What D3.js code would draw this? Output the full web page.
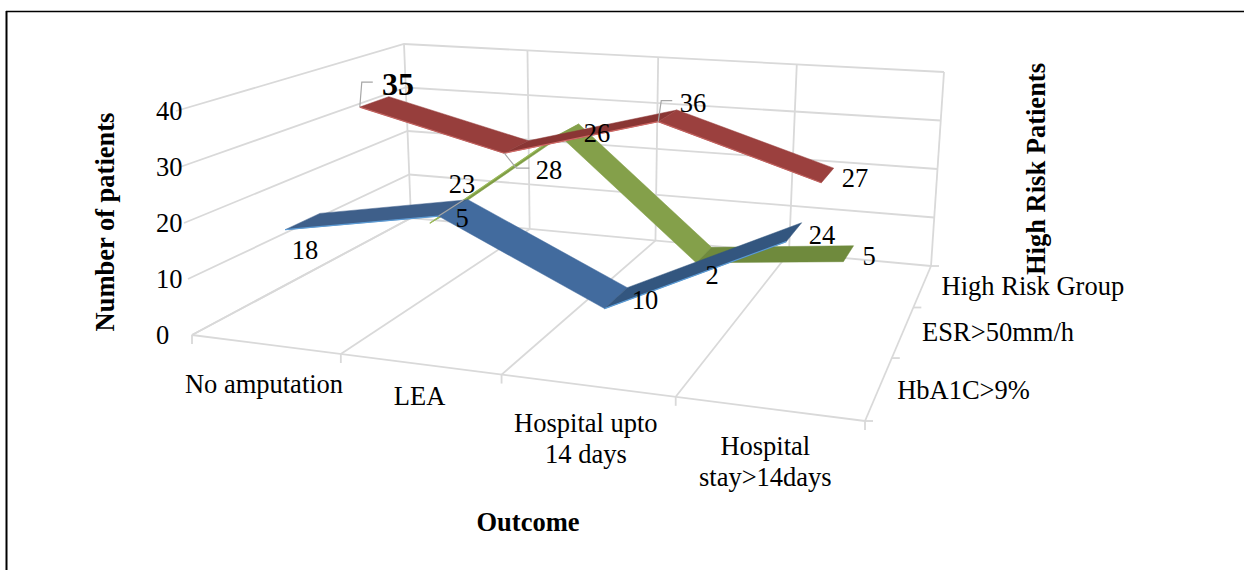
<!DOCTYPE html>
<html>
<head>
<meta charset="utf-8">
<script src="https://cdn.jsdelivr.net/npm/d3@7"></script>
<style>
  html, body { margin: 0; padding: 0; background: #fff; }
  svg { display: block; }
  text { font-family: "Liberation Serif", "Times New Roman", serif; fill: #000; }
</style>
</head>
<body>
<svg id="chart" width="1244" height="570"></svg>
<script>
/* 3-D ribbon line chart, outcome by high risk group */

const categories = ['No amputation', 'LEA', 'Hospital upto|14 days', 'Hospital|stay>14days'];
const depthLabels = ['HbA1C>9%', 'ESR>50mm/h', 'High Risk Group'];
const valueTicks = [0, 10, 20, 30, 40];

const hba1c = [18, 23, 10, 24];
const esr = [35, 28, 36, 27];
const highRisk = [5, 26, 2, 5];

// screen corners of the plot box, floor and the plane at value 40
const floorCorners = [[192, 335], [865, 421], [931, 266], [411, 218]];
const topCorners = [[176, 111], [880, 161], [944, 72], [404, 44]];

const GRID = '#d9d9d9';
const LEADER = '#a6a6a6';
const FONT = 26.5;

const svg = d3.select('#chart');

function quadMap(q) {
  const [[x0, y0], [x1, y1], [x2, y2], [x3, y3]] = q;
  const dx1 = x1 - x2, dx2 = x3 - x2, sx = x0 - x1 + x2 - x3;
  const dy1 = y1 - y2, dy2 = y3 - y2, sy = y0 - y1 + y2 - y3;
  const den = dx1 * dy2 - dx2 * dy1;
  const g = (sx * dy2 - dx2 * sy) / den;
  const h = (dx1 * sy - sx * dy1) / den;
  const a = x1 - x0 + g * x1, b = x3 - x0 + h * x3;
  const d = y1 - y0 + g * y1, e = y3 - y0 + h * y3;
  return (u, w) => {
    const k = g * u + h * w + 1;
    return [(a * u + b * w + x0) / k, (d * u + e * w + y0) / k];
  };
}

const floorMap = quadMap(floorCorners);
const topMap = quadMap(topCorners);

const uScale = d3.scaleBand().domain(d3.range(categories.length)).range([0, 1]);
const zScale = d3.scaleBand().domain(d3.range(depthLabels.length)).range([0, 1]);
const vScale = d3.scaleLinear().domain([0, 40]).range([0, 1]);

// u across, z into the page, v up
function project(u, v, z) {
  const a = floorMap(u, z), b = topMap(u, z), t = vScale(v);
  return [a[0] + (b[0] - a[0]) * t, a[1] + (b[1] - a[1]) * t];
}

const line = d3.line();

function gridLine(pts) {
  svg.append('path').attr('d', line(pts)).attr('fill', 'none')
    .attr('stroke', GRID).attr('stroke-width', 1.8);
}

// frame, open on the right like the source
svg.append('line').attr('x1', 6).attr('x2', 1244).attr('y1', 11.5).attr('y2', 11.5).attr('stroke', '#000').attr('stroke-width', 1.4);
svg.append('line').attr('x1', 6.5).attr('x2', 6.5).attr('y1', 11).attr('y2', 570).attr('stroke', '#000').attr('stroke-width', 2);

// walls and floor
valueTicks.forEach(v => {
  gridLine([project(0, v, 0), project(0, v, 1), project(1, v, 1)]);
});
d3.range(categories.length + 1).forEach(i => {
  const u = i / categories.length;
  gridLine([project(u, 0, 1), project(u, 40, 1)]);
  gridLine([project(u, 0, 0), project(u, 0, 1)]);
  const p = project(u, 0, 0);
  gridLine([p, [p[0], p[1] + 9]]);
});
gridLine([project(0, 0, 0), project(1, 0, 0)]);
d3.range(depthLabels.length + 1).forEach(i => {
  const p = project(1, 0, i / depthLabels.length);
  gridLine([p, [p[0] + 8, p[1]]]);
});

// ribbons, back to front
const RIBBON = 0.42;
const seriesDraw = [
  { vals: highRisk, row: 2, faces: ['#7f9d45', '#84a04a', '#6f8a3d'], edges: ['#9bbb59', null, null] },
  { vals: esr, row: 1, faces: ['#973e3c', '#8a3634', '#9b403e'], edges: ['#c0605d', '#d06a67', '#c0605d'] },
  { vals: hba1c, row: 0, faces: ['#3e5f8a', '#426b9e', '#33567f'], edges: ['#5b9bd5', null, '#5b9bd5'] }
];

function drawRibbon(s) {
  const zc = zScale(s.row) + zScale.bandwidth() / 2;
  const half = zScale.bandwidth() * RIBBON / 2;
  const pt = (i, z) => project(uScale(i) + uScale.bandwidth() / 2, s.vals[i], z);
  d3.range(s.vals.length - 1).forEach(i => {
    const quad = [pt(i, zc - half), pt(i + 1, zc - half), pt(i + 1, zc + half), pt(i, zc + half)];
    svg.append('path').attr('d', line(quad) + 'Z').attr('fill', s.faces[i])
      .attr('stroke', s.faces[i]).attr('stroke-width', 0.5);
    if (s.edges[i]) {
      svg.append('path').attr('d', line([quad[0], quad[1]])).attr('fill', 'none')
        .attr('stroke', s.edges[i]).attr('stroke-width', 1.2);
    }
  });
}

seriesDraw.forEach(drawRibbon);

// leader lines, from the point's near ribbon corner out to the label
const leaderPaths = [
  { vals: esr, row: 1, i: 0, path: [[2, -25], [13, -25]] },
  { vals: esr, row: 1, i: 1, path: [[12, 15], [25, 15]] },
  { vals: esr, row: 1, i: 2, path: [[3, -21], [14, -21]] },
  { vals: hba1c, row: 0, i: 1, path: [[25, -16]] }
];
leaderPaths.forEach(l => {
  const zc = zScale(l.row) + zScale.bandwidth() * (0.5 - RIBBON / 2);
  const p = project(uScale(l.i) + uScale.bandwidth() / 2, l.vals[l.i], zc);
  svg.append('path').attr('d', line([p].concat(l.path.map(o => [p[0] + o[0], p[1] + o[1]]))))
    .attr('fill', 'none').attr('stroke', LEADER).attr('stroke-width', 1.2);
});

function label(txt, x, y, opts) {
  opts = opts || {};
  return svg.append('text').attr('x', x).attr('y', y)
    .attr('text-anchor', opts.anchor || 'middle')
    .attr('dominant-baseline', 'central')
    .attr('font-size', opts.size || FONT)
    .attr('font-weight', opts.weight || 'normal')
    .text(txt);
}

// data labels, placed by hand in the original
const labelSpots = [
  [hba1c, [[305, 250], [462, 184], [645, 300], [822, 235]]],
  [esr, [[398, 84], [549, 170], [693, 103], [855, 178]]],
  [highRisk, [[462, 218], [597, 133], [712, 275], [869, 256]]]
];
labelSpots.forEach(([vals, spots]) => {
  vals.forEach((v, i) => {
    const big = vals === esr && i === 0;
    label(v, spots[i][0], spots[i][1], big ? { size: 32, weight: 'bold' } : {});
  });
});

// value axis
valueTicks.forEach(v => {
  const p = project(0, v, 0);
  label(v, 156, p[1], { anchor: 'start' });
});

// category labels below the front edge
const catShift = [[-1, 40], [0, 32], [-1, 38], [-3, 37]];
categories.forEach((c, i) => {
  const p = project(uScale(i) + uScale.bandwidth() / 2, 0, 0);
  c.split('|').forEach((t, j) => {
    label(t, p[0] + catShift[i][0], p[1] + catShift[i][1] + j * 31);
  });
});

// depth labels right of the side edge
const depthShift = [[18, 2], [19, 1], [19, 0]];
depthLabels.forEach((d, i) => {
  const p = project(1, 0, zScale(i) + zScale.bandwidth() / 2);
  label(d, p[0] + depthShift[i][0], p[1] + depthShift[i][1], { anchor: 'start' });
});

// axis titles
label('Outcome', 528, 522, { weight: 'bold' });
label('Number of patients', 0, 0, { weight: 'bold' }).attr('transform', 'translate(105,222) rotate(-90)');
label('High Risk Patients', 0, 0, { weight: 'bold' }).attr('transform', 'translate(1036,169) rotate(-90)');
</script>
</body>
</html>
